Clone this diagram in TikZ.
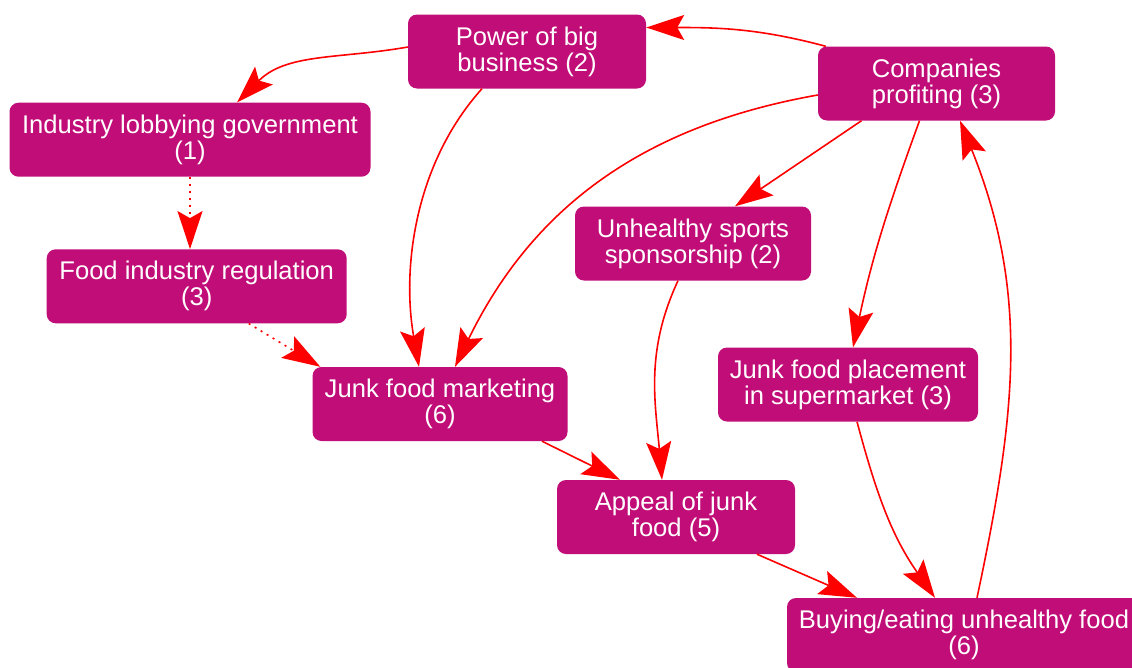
\documentclass[tikz,border=0pt]{standalone}
\usepackage{fontspec}
\setmainfont{Liberation Sans}
\usetikzlibrary{shapes,arrows.meta,positioning,calc}
\definecolor{boxpink}{RGB}{193,13,120}

\begin{document}
\begin{tikzpicture}[x=1pt,y=-1pt,
    box/.style={fill=boxpink, text=white, rounded corners=9pt, align=center,
        minimum height=74pt, inner sep=2pt, font=\fontsize{25.6}{26}\selectfont},
    arr/.style={draw=red, line width=1.6pt, -{Stealth[length=38pt,width=25pt,inset=7pt]}},
    dotarr/.style={arr, dash pattern=on 2pt off 5pt}]
    \useasboundingbox (0,0) rectangle (1132,667);

    % Boxes
    \node[box, minimum width=238pt] (power)  at (527,51.5)  {Power of big\\business (2)};
    \node[box, minimum width=237pt] (profit) at (936.5,83.5) {Companies\\profiting (3)};
    \node[box, minimum width=361pt] (lobby)  at (190,139.7) {Industry lobbying government\\(1)};
    \node[box, minimum width=300pt] (reg)    at (196.7,286.3) {Food industry regulation\\(3)};
    \node[box, minimum width=236pt] (sport)  at (693,243.5) {Unhealthy sports\\sponsorship (2)};
    \node[box, minimum width=255pt] (mark)   at (440,404)   {Junk food marketing\\(6)};
    \node[box, minimum width=260pt] (place)  at (848,384.5) {Junk food placement\\in supermarket (3)};
    \node[box, minimum width=238pt] (appeal) at (676,517)   {Appeal of junk\\food (5)};
    \node[box, minimum width=354pt] (buy)    at (964,635)   {Buying/eating unhealthy food\\(6)};

    % Links
    \draw[arr] ([xshift=8pt]profit.north west) to[out=165,in=0] ([yshift=24pt]power.east);
    \draw[arr] ([yshift=4.5pt]power.west) to[out=190,in=45] ([xshift=47pt]lobby.north);
    \draw[dotarr] (lobby.south) -- (lobby.south |- reg.north);
    \draw[dotarr] ([xshift=52pt]reg.south) -- ([xshift=8pt]mark.north west);
    \draw[arr] ([xshift=-45pt]power.south) to[out=228,in=100,looseness=0.9] ([xshift=-21pt]mark.north);
    \draw[arr] ([yshift=-11.5pt]profit.west) to[out=190,in=64] ([xshift=15pt]mark.north);
    \draw[arr] ([xshift=-75pt]profit.south) -- ([xshift=42pt]sport.north);
    \draw[arr] ([xshift=-17pt]profit.south) to[out=250,in=78] ([xshift=5pt]place.north);
    \draw[arr] ([xshift=-15pt]sport.south) to[out=245,in=95] ([xshift=-14pt]appeal.north);
    \draw[arr] ([xshift=102pt]mark.south) -- ([xshift=-56pt]appeal.north);
    \draw[arr] ([xshift=81pt]appeal.south) -- ([xshift=-107pt]buy.north);
    \draw[arr] ([xshift=9pt]place.south) to[out=285,in=125] ([xshift=-29pt]buy.north);
    \draw[arr] ([xshift=13pt]buy.north) to[out=78,in=-68] ([xshift=23.5pt]profit.south);
\end{tikzpicture}
\end{document}
